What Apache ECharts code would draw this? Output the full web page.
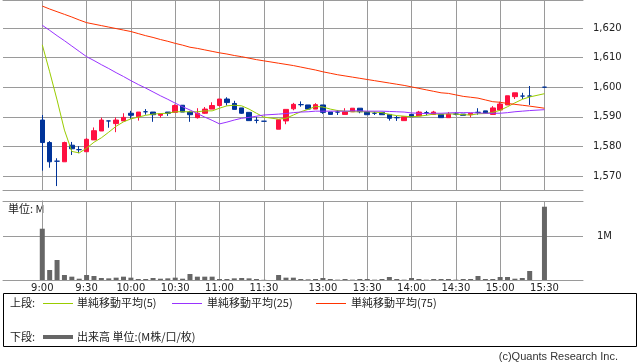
<!DOCTYPE html>
<html><head><meta charset="utf-8">
<script src="https://cdn.jsdelivr.net/npm/echarts@6/dist/echarts.min.js"></script>
<style>html,body{margin:0;padding:0;background:#fff}#c{width:638px;height:362px}</style>
</head><body><div id="c"></div>
<script>
// slot labels (5-minute bars); '-' = lunch gap slot, 15:25 = closing-auction gap
const times = ['9:00','9:05','9:10','9:15','9:20','9:25','9:30','9:35','9:40','9:45',
 '9:50','9:55','10:00','10:05','10:10','10:15','10:20','10:25','10:30','10:35',
 '10:40','10:45','10:50','10:55','11:00','11:05','11:10','11:15','11:20','11:25',
 '11:30','-','12:30','12:35','12:40','12:45','12:50','12:55','13:00','13:05',
 '13:10','13:15','13:20','13:25','13:30','13:35','13:40','13:45','13:50','13:55',
 '14:00','14:05','14:10','14:15','14:20','14:25','14:30','14:35','14:40','14:45',
 '14:50','14:55','15:00','15:05','15:10','15:15','15:20','15:25','15:30'];
const tickLabels = ['9:00','9:30','10:00','10:30','11:00','11:30','13:00','13:30','14:00','14:30','15:00','15:30'];
const priceTicks = [1570,1580,1590,1600,1610,1620];
const volumeTicks = [1];

const open = [1588.9,1581.3,1575.0,1574.8,1580.4,1578.9,1578.2,1582.2,1585.2,1588.6,
 1587.7,1588.6,1591.2,1590.0,1591.7,1591.6,1590.5,1591.6,1591.5,1593.9,
 1591.6,1589.7,1591.2,1592.6,1593.8,1596.0,1594.5,1593.0,1591.5,1588.8,
 1588.5,null,1585.8,1588.6,1592.7,1594.1,1594.0,1592.6,1594.0,1591.6,
 1591.6,1590.8,1591.7,1592.9,1591.7,1591.2,1591.5,1590.8,1589.7,1588.7,
 1590.8,1590.3,1591.4,1590.8,1590.8,1589.7,1590.9,1590.9,1590.7,1591.5,
 1592.0,1590.8,1592.3,1594.0,1596.8,1597.0,1597.0,null,1600.0];
const close = [1581.3,1574.8,1575.0,1581.3,1579.2,1578.9,1582.4,1585.3,1588.9,1588.6,
 1588.9,1589.8,1590.5,1591.6,1591.7,1590.7,1591.0,1591.2,1593.8,1591.6,
 1590.7,1591.2,1592.6,1593.8,1596.0,1594.8,1592.5,1591.2,1588.7,1588.8,
 1588.5,null,1589.0,1592.5,1594.2,1594.1,1592.6,1594.1,1591.5,1590.8,
 1591.6,1591.7,1592.9,1591.7,1590.7,1591.2,1590.7,1589.5,1589.7,1590.0,
 1590.0,1591.6,1591.4,1591.6,1589.7,1590.9,1590.9,1590.5,1591.2,1591.5,
 1591.2,1593.0,1594.3,1597.1,1598.1,1597.0,1597.0,null,1600.0];
const low = [1571.8,1572.8,1566.6,1574.8,1577.1,1577.7,1578.2,1582.2,1585.2,1586.3,
 1584.8,1588.6,1589.3,1588.7,1590.7,1588.3,1589.7,1590.3,1591.5,1591.6,
 1588.3,1589.4,1591.0,1592.6,1593.5,1593.8,1592.5,1591.0,1588.7,1587.8,
 1588.5,null,1585.8,1587.5,1592.2,1593.4,1592.3,1592.6,1591.0,1590.8,
 1590.6,1590.8,1591.7,1591.2,1590.7,1590.6,1590.7,1588.7,1588.6,1588.7,
 1590.0,1590.3,1590.5,1590.8,1589.7,1589.7,1590.5,1590.5,1589.8,1590.7,
 1591.2,1590.8,1592.3,1594.0,1596.0,1596.0,1594.0,null,1600.0];
const high = [1590.6,1581.8,1576.0,1581.6,1581.5,1580.1,1582.8,1586.4,1589.7,1588.6,
 1589.8,1591.2,1592.0,1591.6,1592.6,1591.6,1591.0,1591.6,1594.2,1593.9,
 1592.0,1592.9,1593.3,1594.9,1596.0,1596.6,1595.4,1593.0,1591.5,1590.0,
 1588.5,null,1589.0,1592.5,1594.7,1595.2,1594.0,1594.6,1594.0,1591.6,
 1592.3,1592.9,1592.9,1592.9,1591.7,1591.7,1591.5,1590.8,1590.3,1590.0,
 1590.8,1592.0,1592.0,1592.0,1590.8,1591.6,1591.5,1590.9,1591.2,1592.9,
 1592.0,1593.6,1595.1,1597.1,1598.1,1598.1,1600.4,null,1600.0];
const ma5 = [1614.3,1605.2,1595.7,1585.5,1578.3,1577.8,1579.4,1581.4,1582.9,1584.8,
 1586.8,1588.3,1589.3,1589.9,1590.5,1590.9,1591.1,1591.2,1591.7,1591.7,
 1591.7,1591.7,1592.0,1592.0,1592.9,1593.7,1593.9,1593.7,1592.6,1591.2,
 1589.9,null,1589.2,1589.5,1590.6,1591.7,1592.5,1593.5,1593.3,1592.6,
 1592.1,1591.9,1591.7,1591.7,1591.7,1591.6,1591.4,1590.8,1590.4,1590.2,
 1590.0,1590.2,1590.5,1590.9,1590.9,1591.0,1590.9,1590.7,1590.6,1591.0,
 1591.1,1591.5,1592.2,1593.4,1594.7,1595.9,1596.7,null,1597.8];
const ma25 = [1620.9,1619.2,1617.4,1615.7,1613.9,1612.1,1610.3,1609.0,1607.6,1606.3,
 1604.9,1603.6,1602.2,1600.9,1599.7,1598.4,1597.1,1595.9,1594.6,1593.4,
 1592.3,1591.1,1589.9,1588.8,1587.6,1588.2,1588.9,1589.5,1589.8,1590.2,
 1590.6,null,1590.9,1591.1,1591.4,1591.6,1591.7,1591.9,1591.9,1591.9,
 1591.9,1591.9,1592.0,1592.0,1591.9,1591.9,1591.9,1591.8,1591.7,1591.6,
 1591.3,1591.2,1591.1,1591.2,1591.2,1591.3,1591.4,1591.4,1591.4,1591.3,
 1591.2,1591.2,1591.2,1591.4,1591.7,1591.9,1592.1,null,1592.4];
const ma75 = [1627.4,1626.4,1625.5,1624.6,1623.7,1622.7,1621.8,1621.3,1620.8,1620.3,
 1619.8,1619.3,1618.8,1618.1,1617.4,1616.8,1616.1,1615.5,1614.8,1614.2,
 1613.5,1613.1,1612.6,1612.1,1611.6,1611.2,1610.7,1610.3,1609.8,1609.3,
 1608.9,null,1608.1,1607.7,1607.3,1606.8,1606.3,1605.8,1605.2,1604.7,
 1604.2,1603.8,1603.4,1603.0,1602.6,1602.2,1601.8,1601.4,1601.0,1600.6,
 1600.1,1599.6,1599.1,1598.6,1598.1,1597.9,1597.4,1596.9,1596.6,1596.3,
 1595.7,1595.1,1594.9,1594.5,1594.2,1593.9,1593.6,null,1592.9];
const volume = [1.185,0.231,0.462,0.115,0.077,0.030,0.115,0.092,0.046,0.038,
 0.054,0.077,0.054,0.023,0.023,0.046,0.030,0.038,0.054,0.030,
 0.138,0.077,0.077,0.077,0.023,0.023,0.038,0.046,0.038,0.023,
 0.005,null,0.115,0.054,0.054,0.023,0.015,0.023,0.046,0.023,
 0.008,0.023,0.008,0.023,0.023,0.008,0.023,0.069,0.023,0.008,
 0.046,0.023,0.008,0.023,0.023,0.023,0.008,0.023,0.023,0.092,
 0.023,0.023,0.069,0.069,0.030,0.046,0.208,null,1.693];

const UP = '#ff1040', DOWN = '#003399';
const C_MA5 = '#99cc00', C_MA25 = '#9933ff', C_MA75 = '#ff3300', C_VOL = '#666666';
const GRID = '#9a9a9a';
const NUMFONT = 'DejaVu Sans', JPFONT = 'Noto Sans CJK JP';

const tickIdx = tickLabels.map(t => times.indexOf(t));
const candles = [];
times.forEach((t, i) => {
  if (open[i] == null) return;
  const item = { value: [i, open[i], close[i], low[i], high[i]] };
  if (open[i] === close[i]) item.itemStyle = { color: DOWN, color0: DOWN, borderColor: DOWN, borderColor0: DOWN };
  candles.push(item);
});
const pts = arr => { const r = []; arr.forEach((v, i) => { if (v != null) r.push([i, v]); }); return r; };

const XMIN = -5.32, XMAX = 73.22;
const baseX = (grid, pos, extra) => Object.assign({
  type: 'value', gridIndex: grid, position: pos, min: XMIN, max: XMAX,
  axisLine: { show: true, lineStyle: { color: GRID, width: 1 } },
  axisTick: { show: false, customValues: tickIdx },
  axisLabel: { show: false, customValues: tickIdx },
  splitLine: { show: false }
}, extra || {});

const chart = echarts.init(document.getElementById('c'), null, { renderer: 'canvas' });
chart.setOption({
  animation: false,
  backgroundColor: '#fff',
  grid: [
    { left: 3, right: 55, top: 0, height: 190 },
    { left: 3, right: 55, top: 201, height: 79 }
  ],
  xAxis: [
    baseX(0, 'bottom', { splitLine: { show: true, lineStyle: { color: GRID, width: 1 } } }),
    baseX(0, 'top'),
    baseX(1, 'bottom', {
      splitLine: { show: true, lineStyle: { color: GRID, width: 1 } },
      axisLabel: { show: true, customValues: tickIdx, margin: 3, color: '#222',
        fontFamily: NUMFONT, fontSize: 10, formatter: v => times[Math.round(v)] }
    }),
    baseX(1, 'top')
  ],
  yAxis: [
    { type: 'value', gridIndex: 0, position: 'right', min: 1565.27, max: 1629.45,
      axisLine: { show: true, lineStyle: { color: GRID } },
      axisTick: { show: true, length: 5, customValues: priceTicks, lineStyle: { color: GRID } },
      axisLabel: { customValues: priceTicks, margin: 10, color: '#222', fontFamily: NUMFONT, fontSize: 10,
        formatter: v => Number(v).toLocaleString('en-US') },
      splitLine: { show: true, lineStyle: { color: GRID, width: 1 } } },
    { type: 'value', gridIndex: 1, position: 'right', min: 0, max: 1.825,
      axisLine: { show: true, lineStyle: { color: GRID } },
      axisTick: { show: true, length: 5, customValues: volumeTicks, lineStyle: { color: GRID } },
      axisLabel: { customValues: volumeTicks, margin: 14, color: '#222', fontFamily: NUMFONT, fontSize: 10,
        formatter: v => v + 'M' },
      splitLine: { show: true, lineStyle: { color: GRID, width: 1 } } }
  ],
  series: [
    { type: 'candlestick', xAxisIndex: 0, yAxisIndex: 0, barWidth: 5, data: candles,
      itemStyle: { color: UP, color0: DOWN, borderColor: UP, borderColor0: DOWN, borderWidth: 1 }, z: 2 },
    { type: 'line', name: '単純移動平均(5)', xAxisIndex: 0, yAxisIndex: 0, data: pts(ma5), symbol: 'none',
      lineStyle: { color: C_MA5, width: 1 }, z: 3 },
    { type: 'line', name: '単純移動平均(25)', xAxisIndex: 0, yAxisIndex: 0, data: pts(ma25), symbol: 'none',
      lineStyle: { color: C_MA25, width: 1 }, z: 3 },
    { type: 'line', name: '単純移動平均(75)', xAxisIndex: 0, yAxisIndex: 0, data: pts(ma75), symbol: 'none',
      lineStyle: { color: C_MA75, width: 1 }, z: 3 },
    { type: 'bar', name: '出来高', xAxisIndex: 2, yAxisIndex: 1, data: pts(volume), barWidth: 5,
      itemStyle: { color: C_VOL } }
  ],
  graphic: [
    { type: 'text', left: 8, top: 203, style: { text: '単位: M', font: '11px "' + JPFONT + '"', fill: '#222' } },
    { type: 'rect', shape: { x: 3.5, y: 293.5, width: 633, height: 53 }, style: { fill: 'none', stroke: '#000', lineWidth: 1 } },
    { type: 'text', x: 10, y: 303, style: { text: '上段:', font: '11px "' + JPFONT + '"', fill: '#222', verticalAlign: 'middle' } },
    { type: 'line', shape: { x1: 43, y1: 303.5, x2: 73, y2: 303.5 }, style: { stroke: C_MA5, lineWidth: 1 } },
    { type: 'text', x: 77, y: 303, style: { text: '単純移動平均(5)', font: '11px "' + JPFONT + '"', fill: '#222', verticalAlign: 'middle' } },
    { type: 'line', shape: { x1: 172, y1: 303.5, x2: 202, y2: 303.5 }, style: { stroke: C_MA25, lineWidth: 1 } },
    { type: 'text', x: 207, y: 303, style: { text: '単純移動平均(25)', font: '11px "' + JPFONT + '"', fill: '#222', verticalAlign: 'middle' } },
    { type: 'line', shape: { x1: 316, y1: 303.5, x2: 346, y2: 303.5 }, style: { stroke: C_MA75, lineWidth: 1 } },
    { type: 'text', x: 351, y: 303, style: { text: '単純移動平均(75)', font: '11px "' + JPFONT + '"', fill: '#222', verticalAlign: 'middle' } },
    { type: 'text', x: 10, y: 337, style: { text: '下段:', font: '11px "' + JPFONT + '"', fill: '#222', verticalAlign: 'middle' } },
    { type: 'line', shape: { x1: 43, y1: 337, x2: 73, y2: 337 }, style: { stroke: C_VOL, lineWidth: 4 } },
    { type: 'text', x: 77, y: 337, style: { text: '出来高 単位:(M株/口/枚)', font: '11px "' + JPFONT + '"', fill: '#222', verticalAlign: 'middle' } },
    { type: 'text', x: 618, y: 357, style: { text: '(c)Quants Research Inc.', font: '11px "Liberation Sans"', fill: '#333', align: 'right', verticalAlign: 'middle' } }
  ]
});
</script></body></html>
